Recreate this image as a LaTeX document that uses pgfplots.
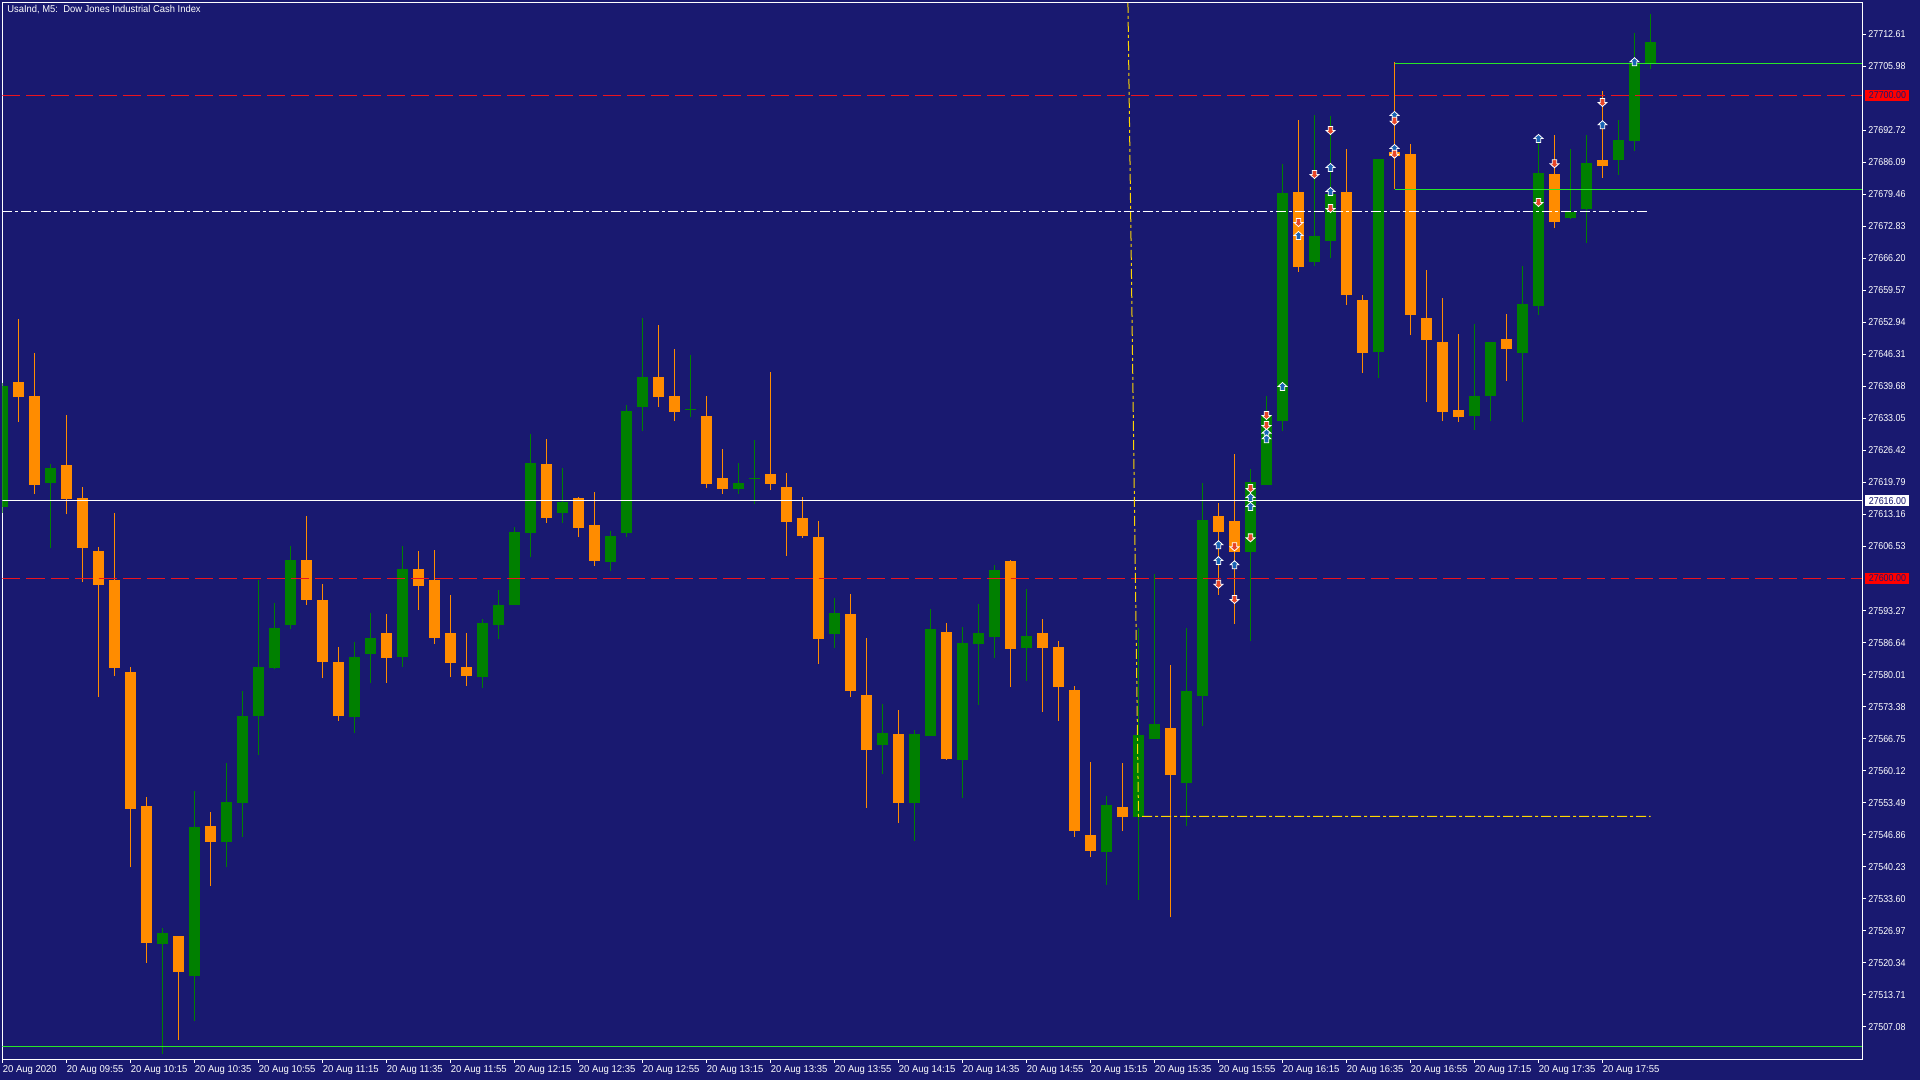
\documentclass[border=0pt]{standalone}
\usepackage{fontspec}
\setmainfont{Liberation Sans}
\usepackage{graphicx}
\usepackage{pgfplots}
\usepackage{pgfplotstable}
\pgfplotsset{compat=1.18}

\definecolor{bgnavy}{RGB}{25,25,112}
\definecolor{bull}{RGB}{0,128,0}
\definecolor{bear}{RGB}{255,140,0}
\definecolor{lvlred}{RGB}{235,20,30}
\definecolor{limeg}{RGB}{40,230,40}
\definecolor{goldl}{RGB}{255,215,0}
\definecolor{arrblue}{RGB}{24,100,180}
\definecolor{arrred}{RGB}{232,70,40}

\newcommand{\xl}[1]{\scalebox{0.95}[1]{#1}}
\newcommand{\yl}[1]{\scalebox{0.89}[1]{#1}}

% trade arrows
\pgfdeclareplotmark{uparr}{%
  \pgfpathmoveto{\pgfqpoint{0pt}{2.1pt}}%
  \pgfpathlineto{\pgfqpoint{2.2pt}{0.1pt}}%
  \pgfpathlineto{\pgfqpoint{1.1pt}{0.1pt}}%
  \pgfpathlineto{\pgfqpoint{1.1pt}{-1.9pt}}%
  \pgfpathlineto{\pgfqpoint{-1.1pt}{-1.9pt}}%
  \pgfpathlineto{\pgfqpoint{-1.1pt}{0.1pt}}%
  \pgfpathlineto{\pgfqpoint{-2.2pt}{0.1pt}}%
  \pgfpathclose\pgfusepathqfillstroke}
\pgfdeclareplotmark{dnarr}{%
  \pgfpathmoveto{\pgfqpoint{0pt}{-2.1pt}}%
  \pgfpathlineto{\pgfqpoint{2.2pt}{-0.1pt}}%
  \pgfpathlineto{\pgfqpoint{1.1pt}{-0.1pt}}%
  \pgfpathlineto{\pgfqpoint{1.1pt}{1.9pt}}%
  \pgfpathlineto{\pgfqpoint{-1.1pt}{1.9pt}}%
  \pgfpathlineto{\pgfqpoint{-1.1pt}{-0.1pt}}%
  \pgfpathlineto{\pgfqpoint{-2.2pt}{-0.1pt}}%
  \pgfpathclose\pgfusepathqfillstroke}

% M5 bars, index 0 = 09:35
\pgfplotstableread{
i o h l c
0 27614.7 27640.5 27613.5 27639.8
3 27619.7 27623.7 27606.2 27622.8
10 27524.2 27527.5 27501.5 27526.5
12 27517.5 27555.9 27508.2 27548.5
14 27545.4 27561.7 27540.1 27553.6
15 27553.4 27576.6 27546.4 27571.5
16 27571.5 27599.6 27563.3 27581.6
17 27581.4 27594.8 27581.1 27589.6
18 27590.2 27606.6 27589.4 27603.8
22 27571.2 27586.8 27567.9 27583.7
23 27584.3 27592.8 27578.3 27587.6
25 27583.7 27606.7 27581.6 27601.9
30 27579.5 27591.5 27577.2 27590.7
31 27590.3 27597.5 27587.4 27594.4
32 27594.4 27610.6 27594.4 27609.6
33 27609.3 27629.9 27604.4 27623.8
35 27613.5 27622.8 27611.4 27615.8
38 27603.3 27609.8 27601.5 27608.7
39 27609.3 27635.9 27608.5 27634.6
40 27635.4 27653.9 27630.5 27641.7
43 27634.8 27646.2 27633.4 27635.0
46 27618.5 27623.8 27617.4 27619.7
47 27620.5 27628.6 27615.3 27620.7
52 27588.4 27595.9 27585.5 27592.8
55 27565.4 27573.9 27559.4 27567.9
57 27553.4 27568.5 27545.5 27567.7
58 27567.3 27593.6 27567.3 27589.5
60 27562.3 27589.9 27554.5 27586.6
61 27586.4 27594.6 27573.7 27588.6
62 27587.8 27602.7 27583.5 27601.7
64 27585.5 27597.7 27578.7 27588.0
69 27543.3 27554.9 27536.4 27553.0
71 27550.5 27589.7 27533.3 27567.5
72 27566.7 27600.9 27566.7 27569.8
74 27557.6 27589.7 27548.7 27576.6
75 27575.6 27619.7 27569.4 27612.0
78 27605.4 27622.6 27587.0 27619.9
79 27619.3 27637.7 27619.3 27633.8
80 27632.5 27685.8 27630.5 27679.8
82 27665.5 27695.9 27664.6 27670.9
83 27669.8 27695.7 27666.3 27679.6
86 27646.8 27686.8 27641.4 27686.8
92 27633.6 27652.6 27630.7 27637.7
93 27637.7 27648.9 27632.5 27648.9
95 27646.6 27664.6 27632.3 27656.8
96 27656.4 27690.1 27654.5 27683.9
98 27674.6 27688.9 27674.4 27675.8
99 27676.5 27691.8 27669.4 27686.0
101 27686.6 27694.9 27683.5 27690.7
102 27690.5 27712.9 27688.5 27706.7
103 27706.7 27716.8 27705.5 27711.0
}\bulltab

\pgfplotstableread{
i o h l c
1 27640.6 27653.7 27632.3 27637.5
2 27637.7 27646.7 27617.4 27619.3
4 27623.5 27633.8 27613.2 27616.3
5 27616.5 27618.8 27599.2 27606.2
6 27605.6 27606.4 27575.4 27598.6
7 27599.6 27613.5 27579.7 27581.4
8 27580.6 27581.6 27540.1 27552.2
9 27552.8 27554.7 27520.3 27524.4
11 27525.9 27525.9 27504.3 27518.4
13 27548.7 27551.6 27536.2 27545.4
19 27603.8 27612.8 27594.5 27595.5
20 27595.5 27598.8 27579.3 27582.6
21 27582.6 27585.7 27570.4 27571.4
24 27588.6 27592.6 27578.3 27583.5
26 27601.9 27605.6 27593.4 27598.4
27 27599.6 27605.8 27586.4 27587.6
28 27588.6 27596.5 27579.5 27582.4
29 27581.6 27588.6 27577.7 27579.7
34 27623.6 27628.8 27611.4 27612.5
36 27616.6 27616.8 27608.5 27610.4
37 27611.0 27617.8 27602.5 27603.5
41 27641.7 27652.5 27635.4 27637.5
42 27637.7 27647.5 27632.5 27634.4
44 27633.6 27637.7 27618.7 27619.5
45 27620.7 27626.7 27617.4 27618.5
48 27621.6 27642.7 27618.2 27619.5
49 27618.9 27621.8 27604.6 27611.6
50 27612.4 27616.8 27608.3 27608.7
51 27608.5 27611.8 27582.2 27587.4
53 27592.6 27596.7 27575.4 27576.6
54 27575.8 27587.6 27552.4 27564.4
56 27567.7 27572.7 27549.3 27553.4
59 27588.8 27590.7 27562.3 27562.5
63 27603.5 27603.8 27577.4 27585.3
65 27588.6 27591.5 27572.3 27585.5
66 27585.7 27587.0 27570.4 27577.4
67 27576.8 27577.7 27546.4 27547.6
68 27546.8 27561.9 27542.2 27543.5
70 27552.6 27561.7 27547.6 27550.5
73 27569.0 27582.0 27529.7 27559.2
76 27612.9 27615.6 27596.5 27609.6
77 27611.8 27625.7 27590.5 27605.4
81 27680.0 27694.9 27663.4 27664.4
84 27680.0 27688.9 27656.6 27658.6
85 27657.6 27658.6 27642.5 27646.6
87 27688.3 27706.8 27680.6 27687.4
88 27687.8 27689.9 27650.4 27654.5
89 27653.9 27663.8 27636.5 27649.3
90 27648.9 27658.0 27632.5 27634.4
91 27634.8 27650.6 27632.3 27633.4
94 27649.5 27654.7 27640.8 27647.5
97 27683.7 27691.8 27672.5 27673.8
100 27686.6 27700.9 27682.9 27685.4
}\beartab

\pgfplotstableread{
x y
76 27606.86
76 27603.58
77 27602.71
78 27616.65
78 27614.79
79 27629.98
79 27628.80
80 27639.64
81 27670.92
83 27685.00
83 27680.03
87 27695.77
87 27688.94
96 27691.02
100 27693.85
102 27706.90
}\buytab

\pgfplotstableread{
x y
76 27598.74
77 27606.51
77 27595.60
78 27618.59
78 27608.37
79 27633.71
79 27631.63
81 27673.68
82 27683.62
83 27692.74
83 27676.58
87 27694.67
87 27687.84
96 27677.83
97 27685.84
100 27698.54
}\selltab

\begin{document}
\begin{tikzpicture}[x=1pt,y=1pt]
\fill[bgnavy] (0,0) rectangle (960,540);
\begin{axis}[
  at={(1.25pt,538.5pt)}, anchor=north west,
  scale only axis, width=929.75pt, height=528pt,
  xmin=0, xmax=116.22, ymin=27500.39, ymax=27719.11,
  axis background/.style={fill=bgnavy},
  axis line style={white, line width=0.5pt},
  tick align=outside, major tick length=2pt,
  tick style={white, line width=0.5pt},
  xtick pos=bottom, ytick pos=right, yticklabel pos=right,
  scaled y ticks=false,
  xtick={0,4,...,100},
  xticklabels={\xl{20 Aug 2020},\xl{20 Aug 09:55},\xl{20 Aug 10:15},\xl{20 Aug 10:35},
    \xl{20 Aug 10:55},\xl{20 Aug 11:15},\xl{20 Aug 11:35},\xl{20 Aug 11:55},
    \xl{20 Aug 12:15},\xl{20 Aug 12:35},\xl{20 Aug 12:55},\xl{20 Aug 13:15},
    \xl{20 Aug 13:35},\xl{20 Aug 13:55},\xl{20 Aug 14:15},\xl{20 Aug 14:35},
    \xl{20 Aug 14:55},\xl{20 Aug 15:15},\xl{20 Aug 15:35},\xl{20 Aug 15:55},
    \xl{20 Aug 16:15},\xl{20 Aug 16:35},\xl{20 Aug 16:55},\xl{20 Aug 17:15},
    \xl{20 Aug 17:35},\xl{20 Aug 17:55}},
  ytick={27712.61,27705.98,27692.72,27686.09,27679.46,27672.83,27666.20,27659.57,
    27652.94,27646.31,27639.68,27633.05,27626.42,27619.79,27613.16,27606.53,
    27593.27,27586.64,27580.01,27573.38,27566.75,27560.12,27553.49,27546.86,
    27540.23,27533.60,27526.97,27520.34,27513.71,27507.08},
  yticklabels={\yl{27712.61},\yl{27705.98},\yl{27692.72},\yl{27686.09},\yl{27679.46},
    \yl{27672.83},\yl{27666.20},\yl{27659.57},\yl{27652.94},\yl{27646.31},\yl{27639.68},
    \yl{27633.05},\yl{27626.42},\yl{27619.79},\yl{27613.16},\yl{27606.53},\yl{27593.27},
    \yl{27586.64},\yl{27580.01},\yl{27573.38},\yl{27566.75},\yl{27560.12},\yl{27553.49},
    \yl{27546.86},\yl{27540.23},\yl{27533.60},\yl{27526.97},\yl{27520.34},\yl{27513.71},
    \yl{27507.08}},
  xticklabel style={anchor=north west, inner sep=0pt, text=white,
    font=\fontsize{5}{6}\selectfont, yshift=-1pt},
  yticklabel style={anchor=west, inner sep=0pt, text=white,
    font=\fontsize{5}{6}\selectfont, xshift=1pt},
]
% wicks
\addplot[draw=none, mark=none, forget plot, error bars/.cd, y dir=plus, y explicit,
  error mark=none, error bar style={draw=bull, line width=0.5pt}]
  table[x=i, y=l, y error plus expr=\thisrow{h}-\thisrow{l}] {\bulltab};
\addplot[draw=none, mark=none, forget plot, error bars/.cd, y dir=plus, y explicit,
  error mark=none, error bar style={draw=bear, line width=0.5pt}]
  table[x=i, y=l, y error plus expr=\thisrow{h}-\thisrow{l}] {\beartab};
% bodies
\addplot[draw=none, mark=none, forget plot, error bars/.cd, y dir=plus, y explicit,
  error mark=none, error bar style={draw=bull, line width=5.5pt}]
  table[x=i, y=o, y error plus expr=\thisrow{c}-\thisrow{o}] {\bulltab};
\addplot[draw=none, mark=none, forget plot, error bars/.cd, y dir=plus, y explicit,
  error mark=none, error bar style={draw=bear, line width=5.5pt}]
  table[x=i, y=c, y error plus expr=\thisrow{o}-\thisrow{c}] {\beartab};

% levels and objects
\addplot[lvlred, line width=0.5pt, dash pattern=on 9pt off 3pt] coordinates {(0,27700) (116.22,27700)};
\addplot[lvlred, line width=0.5pt, dash pattern=on 9pt off 3pt] coordinates {(0,27600) (116.22,27600)};
\addplot[white, line width=0.5pt] coordinates {(0,27616) (116.22,27616)};
\addplot[white, line width=0.5pt, dash pattern=on 5pt off 1.5pt on 1.5pt off 1.5pt] coordinates {(0,27676.0) (102.9,27676.0)};
\addplot[limeg, line width=0.5pt] coordinates {(87,27706.6) (116.22,27706.6)};
\addplot[limeg, line width=0.5pt] coordinates {(87,27680.5) (116.22,27680.5)};
\addplot[limeg, line width=0.5pt] coordinates {(0,27503.08) (116.22,27503.08)};
\addplot[goldl, line width=0.5pt, dash pattern=on 5pt off 1.5pt on 1.5pt off 1.5pt] coordinates {(70.34,27719.11) (71,27550.66) (103,27550.66)};

% trade arrows
\addplot[only marks, mark=uparr, mark options={fill=arrblue, draw=white, line width=0.4pt}] table[x=x, y=y] {\buytab};
\addplot[only marks, mark=dnarr, mark options={fill=arrred, draw=white, line width=0.4pt}] table[x=x, y=y] {\selltab};

\coordinate (p700) at (axis cs:116.22,27700);
\coordinate (p600) at (axis cs:116.22,27600);
\coordinate (p616) at (axis cs:116.22,27616);
\end{axis}
\node[anchor=west, fill=red, text=bgnavy, inner sep=0.4pt, minimum width=22pt, minimum height=5.5pt,
  font=\fontsize{5}{6}\selectfont] at ([xshift=1.5pt]p700) {\yl{27700.00}};
\node[anchor=west, fill=red, text=bgnavy, inner sep=0.4pt, minimum width=22pt, minimum height=5.5pt,
  font=\fontsize{5}{6}\selectfont] at ([xshift=1.5pt]p600) {\yl{27600.00}};
\node[anchor=west, fill=white, text=bgnavy, inner sep=0.4pt, minimum width=22pt, minimum height=5.5pt,
  font=\fontsize{5}{6}\selectfont] at ([xshift=1.5pt]p616) {\yl{27616.00}};
\node[anchor=base west, text=white, inner sep=0pt, font=\fontsize{5}{6}\selectfont]
  at (3.5,533.85) {\scalebox{0.94}[1]{UsaInd, M5:\ \ Dow Jones Industrial Cash Index}};
\pgfresetboundingbox
\path (0,0) rectangle (960,540);
\end{tikzpicture}
\end{document}
